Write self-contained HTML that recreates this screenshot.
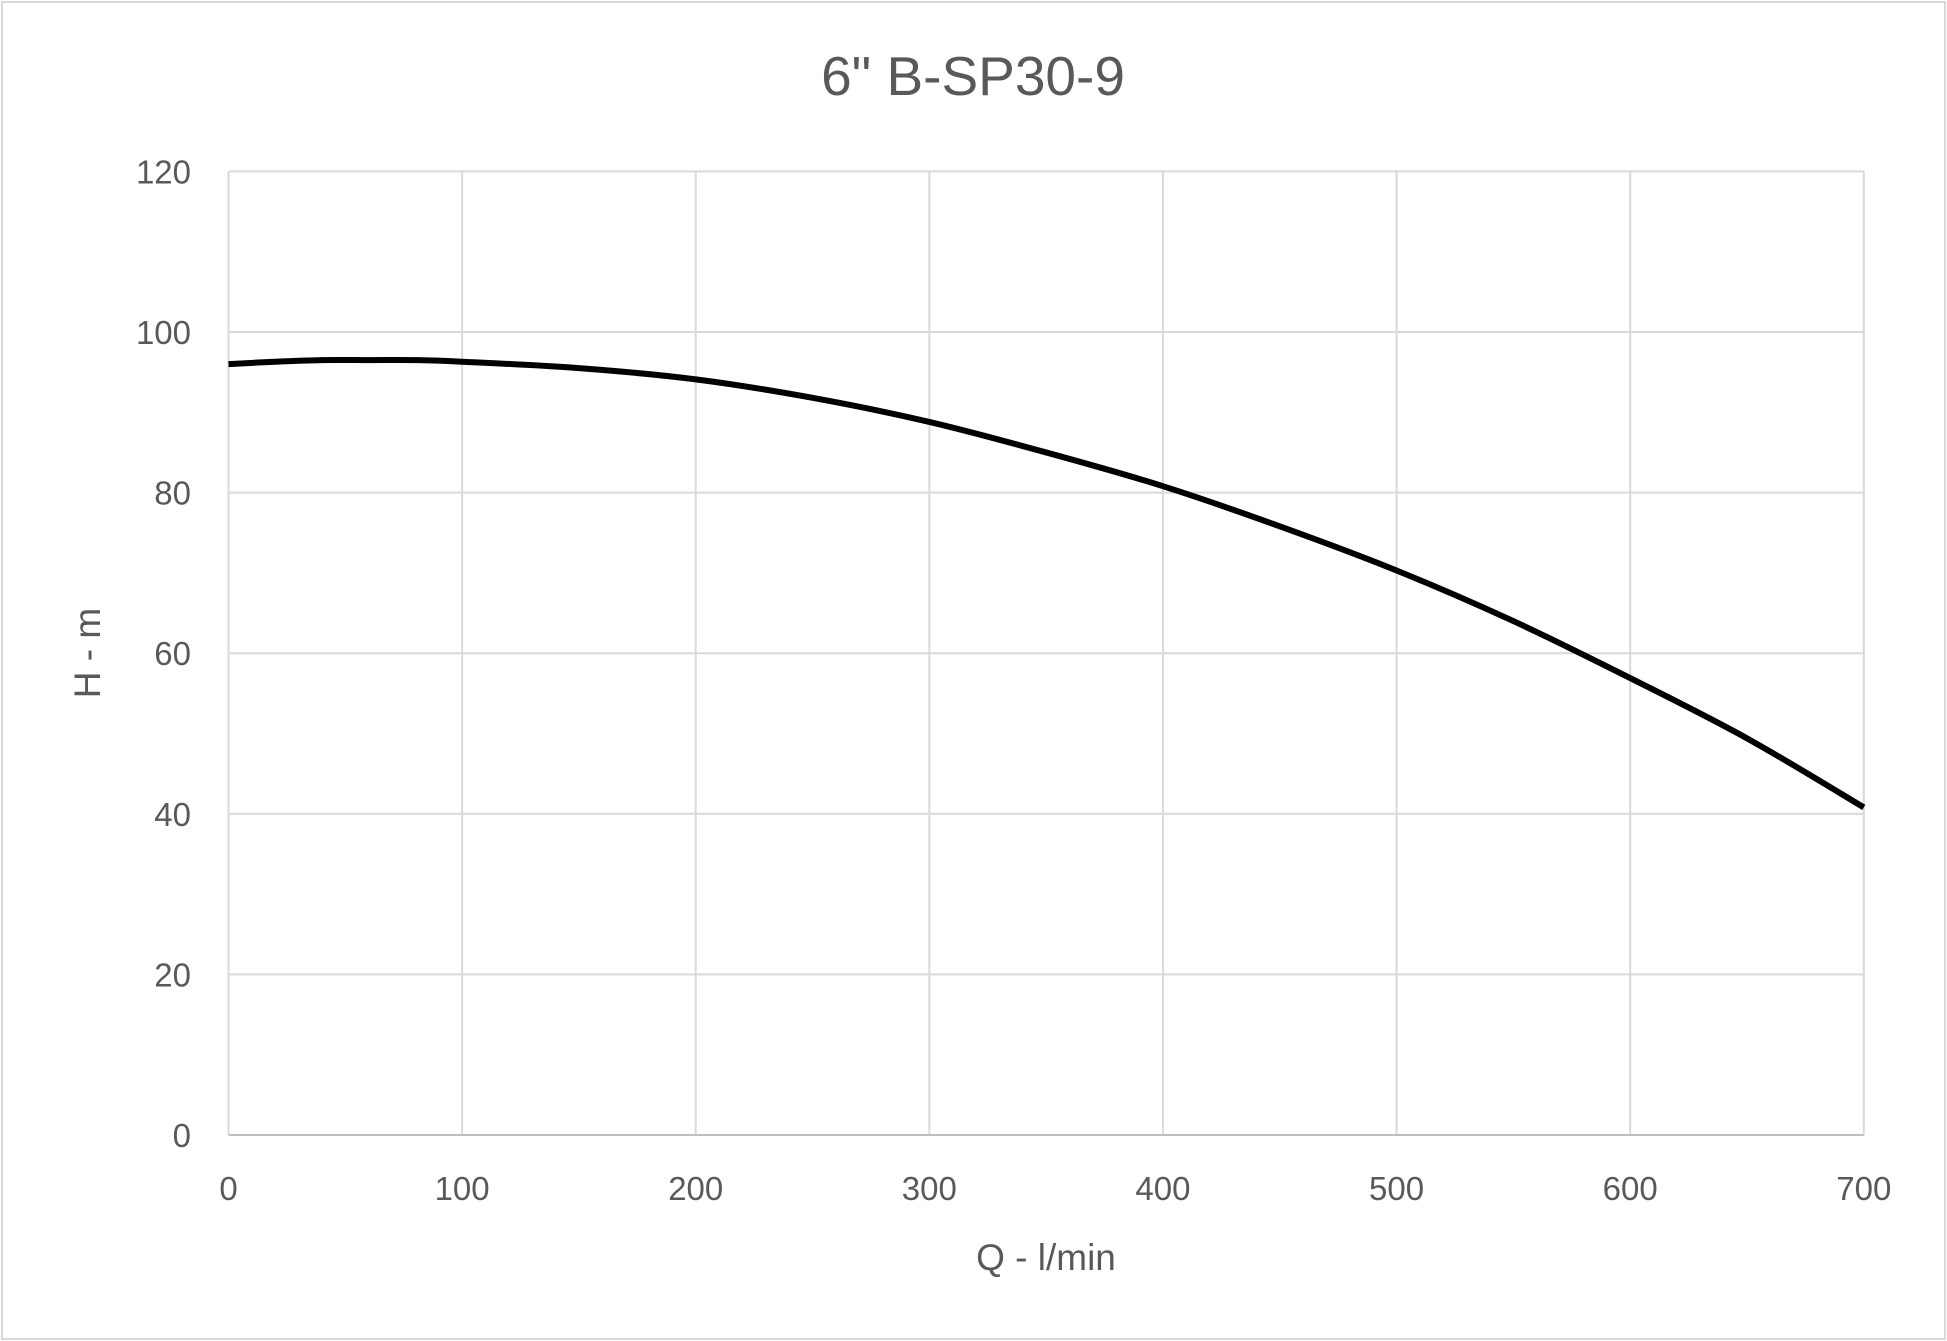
<!DOCTYPE html>
<html><head><meta charset="utf-8"><style>
body{margin:0;background:#fff}
svg{display:block}
text{font-family:"Liberation Sans",sans-serif;fill:#595959}
</style></head><body>
<svg id="chart" width="1947" height="1341" viewBox="0 0 1947 1341">
<rect x="2" y="2" width="1943" height="1337" fill="#fff" stroke="#d9d9d9" stroke-width="2"/>
<text x="973" y="95" font-size="55" text-anchor="middle">6" B-SP30-9</text>
<g id="grid"></g>
<g id="ticks"></g>
<path id="curve" fill="none" stroke="#000" stroke-width="6" stroke-linejoin="round"/>
<text x="1046" y="1270" font-size="37" text-anchor="middle">Q - l/min</text>
<text transform="translate(100,653) rotate(-90)" font-size="37" text-anchor="middle">H - m</text>
</svg>
<script>
const xTicks=[0,100,200,300,400,500,600,700];
const yTicks=[0,20,40,60,80,100,120];
const flowQ=[0,20,40,60,80,100,150,200,250,300,350,400,450,500,550,600,650,700];
const headH=[96,96.3,96.5,96.5,96.5,96.3,95.5,94.1,91.8,88.8,85,80.8,75.8,70.3,64,56.9,49.4,40.8];
const X0=228.5,X1=1863.8,Y0=1135,Y1=171.4;
const sx=v=>X0+(v-0)/(700-0)*(X1-X0);
const sy=v=>Y0-(v-0)/(120-0)*(Y0-Y1);
const NS="http://www.w3.org/2000/svg";
const grid=document.getElementById('grid'),ticks=document.getElementById('ticks');
xTicks.forEach(t=>{
 const l=document.createElementNS(NS,'line');
 
 
 l.setAttribute('x1',sx(t));l.setAttribute('x2',sx(t));l.setAttribute('y1',Y1);l.setAttribute('y2',Y0);
 l.setAttribute('stroke','#d9d9d9');l.setAttribute('stroke-width','2');grid.appendChild(l);
 const tx=document.createElementNS(NS,'text');
 
 
 tx.setAttribute('x',sx(t));tx.setAttribute('y',1200);tx.setAttribute('font-size','33');tx.setAttribute('text-anchor','middle');
 tx.textContent=t;ticks.appendChild(tx);
});
yTicks.forEach(t=>{
 const l=document.createElementNS(NS,'line');
 
 
 l.setAttribute('x1',X0);l.setAttribute('x2',X1);l.setAttribute('y1',sy(t));l.setAttribute('y2',sy(t));
 l.setAttribute('stroke',t===0?'#bfbfbf':'#d9d9d9');l.setAttribute('stroke-width','2');grid.appendChild(l);
 const tx=document.createElementNS(NS,'text');
 
 
 tx.setAttribute('x',191);tx.setAttribute('y',sy(t)+12);tx.setAttribute('font-size','33');tx.setAttribute('text-anchor','end');
 tx.textContent=t;ticks.appendChild(tx);
});
// smooth curve via Catmull-Rom
const pts=flowQ.map((q,i)=>[sx(q),sy(headH[i])]);
let d='M'+pts[0][0]+','+pts[0][1];
for(let i=0;i<pts.length-1;i++){
 const p0=pts[i-1]||pts[i],p1=pts[i],p2=pts[i+1],p3=pts[i+2]||p2;
 d+=' C'+(p1[0]+(p2[0]-p0[0])/6)+','+(p1[1]+(p2[1]-p0[1])/6)+' '+(p2[0]-(p3[0]-p1[0])/6)+','+(p2[1]-(p3[1]-p1[1])/6)+' '+p2[0]+','+p2[1];
}
document.getElementById('curve').setAttribute('d',d);
</script>
</body></html>
